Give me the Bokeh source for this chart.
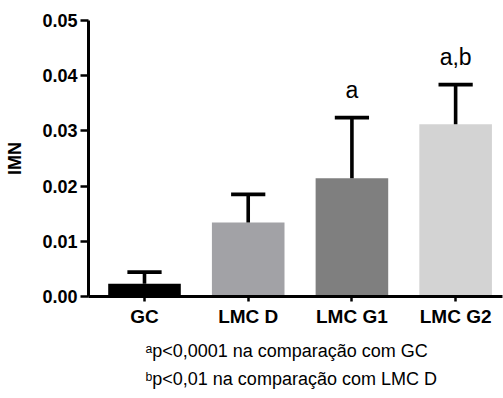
from bokeh.plotting import figure
from bokeh.models import Range1d, FixedTicker, PrintfTickFormatter, ColumnDataSource, Title
from bokeh.core.properties import value
from bokeh.embed import file_html
from bokeh.resources import INLINE

# ---- data ----
groups = ["GC", "LMC D", "LMC G1", "LMC G2"]
means = [0.0023, 0.0134, 0.0214, 0.0312]
sds = [0.0021, 0.0051, 0.0110, 0.0072]
colors = ["#000000", "#a2a2a6", "#7f7f7f", "#d3d3d3"]
sig = ["", "", "a", "a,b"]
y_ticks = [0.0, 0.01, 0.02, 0.03, 0.04, 0.05]
y_title = "IMN"
notes = ["\u1d43p<0,0001 na comparação com GC", "\u1d47p<0,01 na comparação com LMC D"]

FONT = "Liberation Sans"

xs = list(range(len(groups)))
uppers = [m + s for m, s in zip(means, sds)]

p = figure(width=503, height=398, output_backend="svg", toolbar_location=None,
           x_range=Range1d(-0.54, 3.452), y_range=Range1d(0, 0.05),
           min_border_left=88, min_border_right=1, min_border_top=20, min_border_bottom=101)
p.outline_line_color = None
p.xgrid.visible = False
p.ygrid.visible = False
p.background_fill_color = "white"
p.border_fill_color = "white"

src = ColumnDataSource(dict(x=xs, top=means, upper=uppers, color=colors, sig=sig,
                            sig_y=[u + 0.0050 for u in uppers]))

p.vbar(x="x", top="top", bottom=0, width=0.7, fill_color="color", line_color=None, source=src)
p.segment(x0="x", y0="top", x1="x", y1="upper", line_color="black", line_width=3.6, source=src)
p.segment(x0=[x - 0.165 for x in xs], y0=uppers, x1=[x + 0.165 for x in xs], y1=uppers,
          line_color="black", line_width=3.8)
p.text(x="x", y="sig_y", text="sig", source=src, text_font=value(FONT), text_font_size="23px",
       text_align="center", text_baseline="alphabetic", text_color="black")

# axes
xa = p.xaxis[0]
xa.ticker = FixedTicker(ticks=xs)
xa.major_label_overrides = {i: g for i, g in zip(xs, groups)}
xa.major_label_text_font = FONT
xa.major_label_text_font_style = "bold"
xa.major_label_text_font_size = "19px"
xa.major_label_text_color = "black"
xa.major_label_standoff = 4
xa.major_tick_out = 5
xa.major_tick_in = 0
xa.minor_tick_out = 0
xa.minor_tick_in = 0
xa.axis_line_width = 3
xa.major_tick_line_width = 2.5
xa.axis_line_color = "black"

ya = p.yaxis[0]
ya.ticker = FixedTicker(ticks=y_ticks)
ya.formatter = PrintfTickFormatter(format="%.2f")
ya.major_label_text_font = FONT
ya.major_label_text_font_style = "bold"
ya.major_label_text_font_size = "18px"
ya.major_label_text_color = "black"
ya.major_label_standoff = 3
ya.major_tick_out = 8
ya.major_tick_in = 0
ya.minor_tick_out = 0
ya.minor_tick_in = 0
ya.axis_line_width = 3
ya.major_tick_line_width = 2.5
ya.axis_line_color = "black"
ya.axis_label = y_title
ya.axis_label_text_font = FONT
ya.axis_label_text_font_style = "bold"
ya.axis_label_text_font_size = "18px"
ya.axis_label_text_color = "black"
ya.axis_label_standoff = 14

# footnotes
t = Title(text="\n".join(notes), align="left", offset=57, text_font=FONT, text_font_style="normal",
          text_font_size="18px", text_color="black", text_line_height=1.4, standoff=19)
p.add_layout(t, "below")

open("out.html", "w").write(file_html(p, INLINE))
